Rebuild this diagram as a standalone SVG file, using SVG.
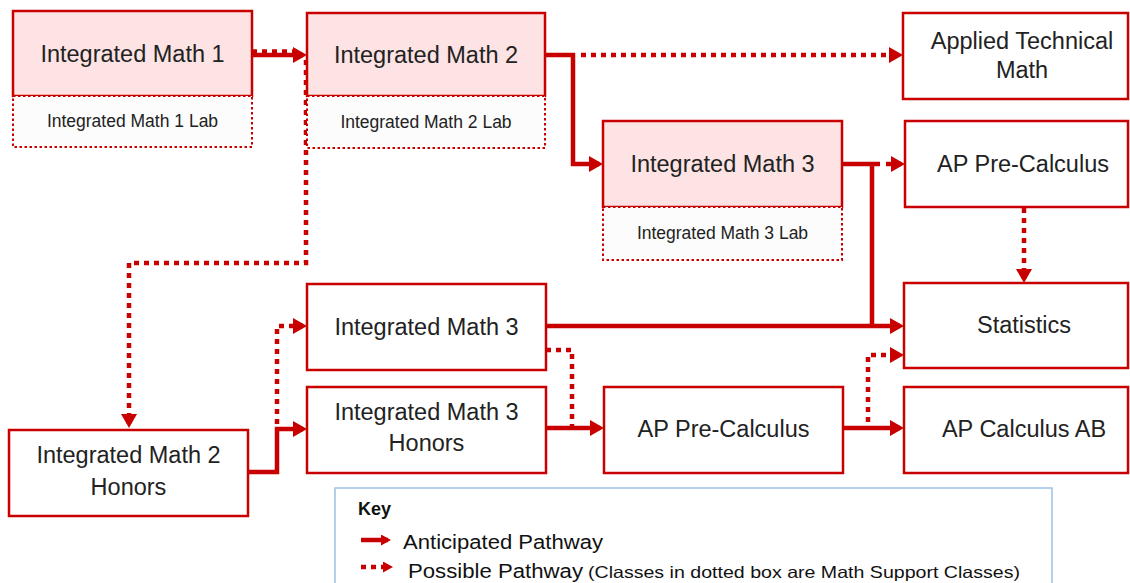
<svg xmlns="http://www.w3.org/2000/svg" width="1130" height="583" viewBox="0 0 1130 583">
<defs>
<style>
.box{fill:#fff;stroke:#c80000;stroke-width:2.5}
.pink{fill:#fde3e3;stroke:#c80000;stroke-width:2.5}
.lab{fill:#fcfcfc;stroke:#c80000;stroke-width:2;stroke-dasharray:2.5 2.5}
.t{font-family:"Liberation Sans",Arial,sans-serif;font-size:23.5px;fill:#222;text-anchor:middle}
.tl{font-family:"Liberation Sans",Arial,sans-serif;font-size:17.5px;fill:#222;text-anchor:middle}
.s{fill:none;stroke:#c80000;stroke-width:4.5}
.d{fill:none;stroke:#c80000;stroke-width:4.5;stroke-dasharray:5 5}
.k{font-family:"Liberation Sans",Arial,sans-serif;fill:#111}
</style>
<marker id="ah" markerUnits="userSpaceOnUse" markerWidth="16" markerHeight="18" refX="10" refY="8" orient="auto">
<path d="M0,0 L14,8 L0,16 z" fill="#c80000"/>
</marker>
<marker id="ahs" markerUnits="userSpaceOnUse" markerWidth="12" markerHeight="12" refX="7" refY="5.5" orient="auto">
<path d="M0,0 L10,5.5 L0,11 z" fill="#c80000"/>
</marker>
</defs>
<rect width="1130" height="583" fill="#fff"/>

<g id="connectors">
<path class="s" d="M252,55 H303" marker-end="url(#ah)"/>
<path class="d" d="M252,51.5 H298"/>
<path class="d" d="M306,60 V263 H129 V424" marker-end="url(#ah)"/>
<path class="s" d="M545,55 H573 V164 H599" marker-end="url(#ah)"/>
<path class="d" d="M581,55 H899" marker-end="url(#ah)"/>
<path class="s" d="M842,164 H880"/>
<path class="d" d="M886,164 H901" marker-end="url(#ah)"/>
<path class="s" d="M872,164 V326"/>
<path class="s" d="M546,326 H900" marker-end="url(#ah)"/>
<path class="d" d="M1024,208 V279" marker-end="url(#ah)"/>
<path class="d" d="M546,350 H572 V426"/>
<path class="s" d="M546,428 H600" marker-end="url(#ah)"/>
<path class="s" d="M248,472 H277 V429 H303" marker-end="url(#ah)"/>
<path class="d" d="M277,424 V326 H303" marker-end="url(#ah)"/>
<path class="s" d="M843,428 H900" marker-end="url(#ah)"/>
<path class="d" d="M868,422 V355 H900" marker-end="url(#ah)"/>
</g>

<g id="im1">
<rect class="pink" x="13" y="11" width="239" height="85"/>
<rect class="lab" x="13" y="96" width="239" height="51"/>
<text class="t" x="132.5" y="62">Integrated Math 1</text>
<text class="tl" x="132.5" y="127">Integrated Math 1 Lab</text>
</g>
<g id="im2">
<rect class="pink" x="307" y="13" width="238" height="83"/>
<rect class="lab" x="307" y="96" width="238" height="52"/>
<text class="t" x="426" y="63">Integrated Math 2</text>
<text class="tl" x="426" y="128">Integrated Math 2 Lab</text>
</g>
<g id="im3top">
<rect class="pink" x="603" y="121" width="239" height="86"/>
<rect class="lab" x="603" y="207" width="239" height="53"/>
<text class="t" x="722.5" y="172">Integrated Math 3</text>
<text class="tl" x="722.5" y="239">Integrated Math 3 Lab</text>
</g>
<g id="atm">
<rect class="box" x="903" y="13" width="225" height="86"/>
<text class="t" x="1022" y="49">Applied Technical</text>
<text class="t" x="1022" y="78">Math</text>
</g>
<g id="apprecalc-right">
<rect class="box" x="905" y="121" width="223" height="86"/>
<text class="t" x="1023" y="172">AP Pre-Calculus</text>
</g>
<g id="statistics">
<rect class="box" x="904" y="283" width="224" height="85"/>
<text class="t" x="1024" y="333">Statistics</text>
</g>
<g id="apcalc">
<rect class="box" x="904" y="387" width="224" height="86"/>
<text class="t" x="1024" y="437">AP Calculus AB</text>
</g>
<g id="im3mid">
<rect class="box" x="307" y="284" width="239" height="86"/>
<text class="t" x="426.5" y="335">Integrated Math 3</text>
</g>
<g id="im3h">
<rect class="box" x="307" y="387" width="239" height="86"/>
<text class="t" x="426.5" y="420">Integrated Math 3</text>
<text class="t" x="426.5" y="451">Honors</text>
</g>
<g id="apprecalc-mid">
<rect class="box" x="604" y="387" width="239" height="86"/>
<text class="t" x="723.5" y="437">AP Pre-Calculus</text>
</g>
<g id="im2h">
<rect class="box" x="9" y="430" width="239" height="86"/>
<text class="t" x="128.5" y="463">Integrated Math 2</text>
<text class="t" x="128.5" y="495">Honors</text>
</g>

<g id="key">
<rect x="335" y="488" width="717" height="100" fill="#fff" stroke="#9fc0e8" stroke-width="1.5"/>
<text class="k" x="358" y="515" font-size="18" font-weight="bold">Key</text>
<path class="s" d="M361,540 H388" stroke-width="4" marker-end="url(#ahs)"/>
<text class="k" x="403" y="549" font-size="20" textLength="200" lengthAdjust="spacingAndGlyphs">Anticipated Pathway</text>
<path class="d" d="M361,567 H390" stroke-width="3.5" stroke-dasharray="3.5 3" marker-end="url(#ahs)"/>
<text class="k" x="408" y="578" font-size="20" textLength="175" lengthAdjust="spacingAndGlyphs">Possible Pathway</text>
<text class="k" x="588" y="578" font-size="16.5" textLength="432" lengthAdjust="spacingAndGlyphs">(Classes in dotted box are Math Support Classes)</text>
</g>
</svg>
